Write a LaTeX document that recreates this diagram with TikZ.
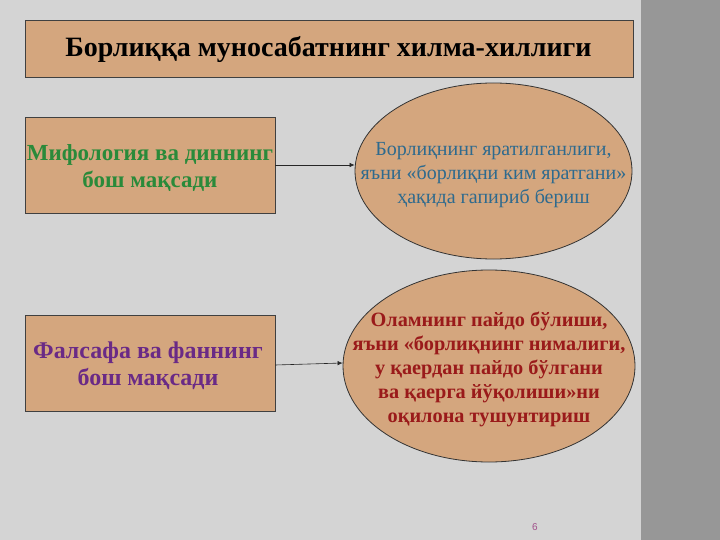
\documentclass[tikz,border=0pt]{standalone}
\usepackage{fontspec}
\setmainfont{Liberation Serif}
\newfontfamily\pnfont{Liberation Sans}
\usetikzlibrary{shapes.geometric,arrows.meta}
\definecolor{bg}{HTML}{D4D4D4}
\definecolor{strip}{HTML}{979797}
\definecolor{tan}{HTML}{D4A67E}
\definecolor{tgreen}{HTML}{2A8A3A}
\definecolor{tblue}{HTML}{2E6A8E}
\definecolor{tpurple}{HTML}{6A2A86}
\definecolor{tred}{HTML}{9A1A1A}
\definecolor{pnum}{HTML}{A0508A}
\begin{document}
\begin{tikzpicture}[x=1pt,y=-1pt,
  panel/.style={draw=black!75,line width=0.8pt,fill=tan,inner sep=0pt},
  oval/.style={ellipse,draw=black!80,line width=0.8pt,fill=tan,inner sep=0pt},
  conn/.style={draw=black!85,line width=0.6pt,-{Latex[length=5pt,width=4.5pt]}}]
\fill[bg] (0,0) rectangle (720,540);
\useasboundingbox (0,0) rectangle (720,540);
\fill[strip] (641,0) rectangle (720,540);
% title
\node[panel,minimum width=608pt,minimum height=57pt] (title) at (329,48.5) {};
\node[font=\fontsize{28}{32}\selectfont\bfseries] (tt) at (328.5,50)
  {Борлиққа муносабатнинг хилма-хиллиги};
% left boxes
\node[panel,minimum width=250pt,minimum height=96pt] (b1) at (150,165) {};
\node[align=center,text=tgreen,font=\fontsize{23}{27}\selectfont\bfseries] (t1) at (150,168)
  {Мифология ва диннинг\\бош мақсади};
\node[panel,minimum width=250pt,minimum height=96pt] (b2) at (150,363) {};
\node[align=center,text=tpurple,font=\fontsize{24}{27}\selectfont\bfseries] (t2) at (148,366)
  {Фалсафа ва фаннинг\\бош мақсади};
% ellipses
\node[oval,minimum width=277pt,minimum height=176pt] (e1) at (493.5,171) {};
\node[align=center,text=tblue,font=\fontsize{20}{24}\selectfont] (u1) at (493.5,175)
  {Борлиқнинг яратилганлиги,\\яъни «борлиқни ким яратгани»\\ҳақида гапириб бериш};
\node[oval,minimum width=292pt,minimum height=192pt] (e2) at (489,366) {};
\node[align=center,text=tred,font=\fontsize{20.3}{24}\selectfont\bfseries] (u2) at (489,369)
  {Оламнинг пайдо бўлиши,\\яъни «борлиқнинг нималиги,\\у қаердан пайдо бўлгани\\ва қаерга йўқолиши»ни\\оқилона тушунтириш};
% connectors
\draw[conn] (b1.east) -- (b1.east -| e1.west);
\draw[conn] ([yshift=-2pt]b2.east) -- ([yshift=3pt]e2.west);
% page number
\node[text=pnum,font=\pnfont\fontsize{10}{12}\selectfont] (pn) at (535,527) {6};
\end{tikzpicture}
\end{document}
